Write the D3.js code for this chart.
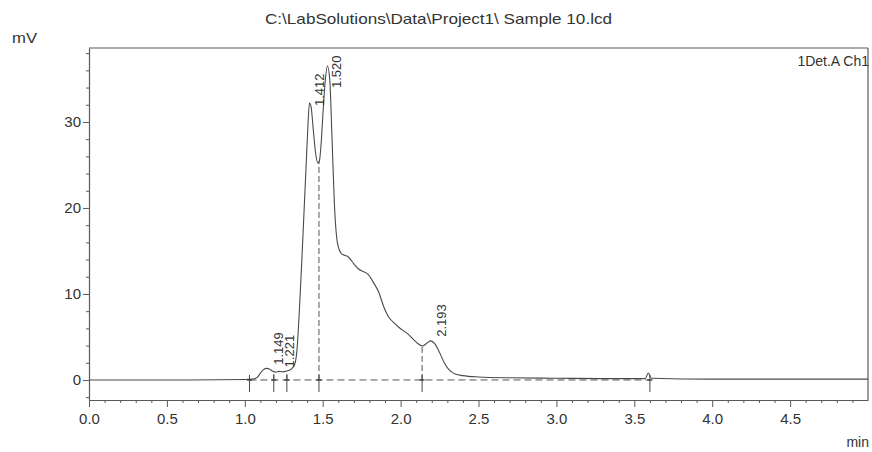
<!DOCTYPE html>
<html><head><meta charset="utf-8">
<script src="https://cdn.jsdelivr.net/npm/d3@7"></script>
<style>
html,body{margin:0;padding:0;background:#fff;}
svg{display:block;}
text{font-family:"Liberation Sans",Arial,sans-serif;fill:#333;}
</style></head>
<body>
<svg id="chart" width="872" height="452"></svg>
<script>
// ---- data ----
const titleText = "C:\\LabSolutions\\Data\\Project1\\ Sample 10.lcd";
const channelText = "1Det.A Ch1";
const times = [0.00,0.50,1.00,1.05,1.08,1.10,1.12,1.14,1.16,1.18,1.20,1.22,1.24,1.27,1.30,1.32,1.335,1.35,1.365,1.38,1.395,1.405,1.415,1.425,1.44,1.455,1.47,1.48,1.49,1.50,1.515,1.53,1.545,1.56,1.575,1.59,1.605,1.62,1.64,1.665,1.70,1.73,1.76,1.79,1.83,1.86,1.89,1.92,1.96,1.99,2.05,2.10,2.14,2.17,2.193,2.22,2.25,2.28,2.31,2.35,2.40,2.50,2.70,3.00,3.30,3.57,3.59,3.61,4.00,4.50,5.00];
const mV    = [0.00,0.00,0.05,0.10,0.30,0.80,1.20,1.35,1.25,1.00,0.90,1.00,0.95,1.05,1.30,1.80,3.50,8.00,13.5,19.5,25.5,29.5,32.2,31.8,29.0,26.3,25.2,25.6,27.5,30.5,34.5,36.5,35.0,28.0,20.5,16.5,15.2,14.7,14.5,14.3,13.5,12.9,12.6,12.3,11.2,10.2,8.6,7.4,6.6,6.1,5.3,4.4,3.95,4.30,4.55,4.20,3.20,2.00,1.20,0.70,0.50,0.35,0.25,0.20,0.15,0.15,0.80,0.20,0.10,0.10,0.10];
const peakTimes  = [1.149,1.221,1.412,1.520,2.193];
const peakLabels = ["1.149","1.221","1.412","1.520","2.193"];
const markerTimes = [1.03,1.186,1.27,1.476,2.138,3.60];
const dropTimes   = [1.186,1.27,1.476,2.138];
const xTicks = [0.0,0.5,1.0,1.5,2.0,2.5,3.0,3.5,4.0,4.5];
const yTicks = [0,10,20,30];

// ---- layout ----
const svg = d3.select("#chart");
const L = 89, R = 868, T = 48, B = 400;
const x = d3.scaleLinear().domain([0,5.0]).range([L,R]);
const y = d3.scaleLinear().domain([-2.33,38.6]).range([B,T]);
const lineCol = "#5a5a5a";

const data = times.map((t,i)=>({t, v:mV[i]}));
const bis = d3.bisector(d=>d.t).left;
function valueAt(t){
  const i = Math.max(1, Math.min(data.length-1, bis(data,t)));
  const a = data[i-1], b = data[i];
  return a.v + (b.v-a.v)*(t-a.t)/(b.t-a.t);
}

// title and unit labels
svg.append("text").attr("x",265).attr("y",24)
  .attr("textLength",347).attr("lengthAdjust","spacingAndGlyphs")
  .style("font-size","15px").text(titleText);
svg.append("text").attr("x",12).attr("y",43).attr("textLength",25).attr("lengthAdjust","spacingAndGlyphs")
  .style("font-size","15px").text("mV");
svg.append("text").attr("x",869).attr("y",447).attr("text-anchor","end").style("font-size","14px").text("min");

// frame (top and right)
svg.append("line").attr("x1",L).attr("x2",R).attr("y1",T).attr("y2",T).attr("stroke",lineCol).attr("stroke-width",1.2);
svg.append("line").attr("x1",R).attr("x2",R).attr("y1",T).attr("y2",B).attr("stroke",lineCol).attr("stroke-width",1.2);

// channel label
svg.append("text").attr("x",869).attr("y",66).attr("text-anchor","end")
  .style("font-size","14px").text(channelText);

// x axis
const xAxis = d3.axisBottom(x).tickValues(xTicks).tickFormat(d3.format(".1f")).tickSize(7).tickSizeOuter(0);
const gx = svg.append("g").attr("transform",`translate(0,${B})`).call(xAxis);
gx.select(".domain").attr("stroke",lineCol).attr("stroke-width",1.2);
gx.selectAll(".tick line").attr("stroke",lineCol);
gx.selectAll(".tick text").style("font-size","15px").attr("dy","0.95em").attr("fill","#333");
const gxm = svg.append("g").attr("transform",`translate(0,${B})`)
  .call(d3.axisBottom(x).tickValues(d3.range(0,50).map(i=>i/10).filter(v=>Math.round(v*10)%5!==0)).tickSize(3).tickFormat(""));
gxm.select(".domain").remove();
gxm.selectAll(".tick line").attr("stroke",lineCol);

// y axis
const yAxis = d3.axisLeft(y).tickValues(yTicks).tickSize(6).tickSizeOuter(0);
const gy = svg.append("g").attr("transform",`translate(${L},0)`).call(yAxis);
gy.select(".domain").attr("stroke",lineCol).attr("stroke-width",1.2);
gy.selectAll(".tick line").attr("stroke",lineCol);
gy.selectAll(".tick text").style("font-size","15px").attr("x",-8).attr("fill","#333");
const gym = svg.append("g").attr("transform",`translate(${L},0)`)
  .call(d3.axisLeft(y).tickValues(d3.range(-2,39,2).filter(v=>v%10!==0)).tickSize(3).tickFormat(""));
gym.select(".domain").remove();
gym.selectAll(".tick line").attr("stroke",lineCol);

// integration baseline (dashed)
svg.append("line").attr("x1",x(markerTimes[0])).attr("x2",x(markerTimes[markerTimes.length-1]))
  .attr("y1",y(0)).attr("y2",y(0)).attr("stroke","#555").attr("stroke-dasharray","7,4");

// drop lines
svg.selectAll(".drop").data(dropTimes).enter().append("line")
  .attr("x1",d=>x(d)).attr("x2",d=>x(d)).attr("y1",y(0)).attr("y2",d=>y(valueAt(d)))
  .attr("stroke","#555").attr("stroke-dasharray","6,3");

// trace
svg.append("path").datum(data)
  .attr("d", d3.line().x(d=>x(d.t)).y(d=>y(d.v)).curve(d3.curveMonotoneX))
  .attr("fill","none").attr("stroke","#4a4a4a").attr("stroke-width",1.1);

// markers
const mk = svg.selectAll(".mk").data(markerTimes).enter().append("g");
mk.append("line").attr("x1",d=>x(d)).attr("x2",d=>x(d)).attr("y1",y(0)-5).attr("y2",y(0)+12)
  .attr("stroke","#444");
mk.append("line").attr("x1",d=>x(d)-2.5).attr("x2",d=>x(d)+2.5).attr("y1",y(0)).attr("y2",y(0))
  .attr("stroke","#444").attr("stroke-width",1.5);

// peak labels
svg.selectAll(".pl").data(peakTimes).enter().append("text")
  .attr("transform",(d)=>{
    const py = Math.max(y(valueAt(d))-4, T+40);
    return `translate(${x(d)+15},${py}) rotate(-90)`;
  })
  .style("font-size","13px").text((d,i)=>peakLabels[i]);
</script>
</body></html>
